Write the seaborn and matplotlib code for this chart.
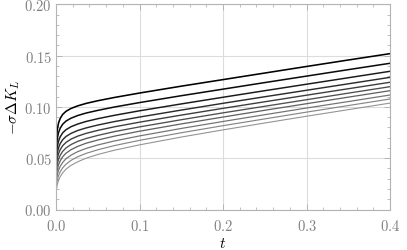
import numpy as np
import pandas as pd
import matplotlib
matplotlib.use("Agg")
import matplotlib.pyplot as plt
import seaborn as sns
from matplotlib.ticker import MultipleLocator, FuncFormatter

t_vals = [0, 0.0005, 0.0015, 0.003, 0.005, 0.008, 0.012, 0.018, 0.026, 0.036,
          0.05, 0.07, 0.1, 0.15, 0.2, 0.25, 0.3, 0.35, 0.4]

c1 = [0.0500, 0.0682, 0.0776, 0.0842, 0.0887, 0.0927, 0.0957, 0.0985, 0.1010, 0.1034,
      0.1060, 0.1092, 0.1135, 0.1202, 0.1266, 0.1330, 0.1394, 0.1457, 0.1519]
c2 = [0.0450, 0.0604, 0.0688, 0.0749, 0.0792, 0.0831, 0.0862, 0.0890, 0.0916, 0.0940,
      0.0966, 0.0999, 0.1042, 0.1109, 0.1173, 0.1237, 0.1300, 0.1363, 0.1425]
c3 = [0.0400, 0.0534, 0.0609, 0.0666, 0.0708, 0.0747, 0.0778, 0.0807, 0.0833, 0.0858,
      0.0885, 0.0918, 0.0962, 0.1029, 0.1094, 0.1158, 0.1221, 0.1284, 0.1347]
c4 = [0.0360, 0.0478, 0.0547, 0.0601, 0.0642, 0.0680, 0.0712, 0.0742, 0.0770, 0.0795,
      0.0823, 0.0857, 0.0901, 0.0969, 0.1035, 0.1099, 0.1162, 0.1225, 0.1288]
c5 = [0.0320, 0.0427, 0.0491, 0.0543, 0.0583, 0.0622, 0.0654, 0.0686, 0.0715, 0.0742,
      0.0771, 0.0806, 0.0851, 0.0920, 0.0986, 0.1050, 0.1114, 0.1177, 0.1240]
c6 = [0.0280, 0.0377, 0.0438, 0.0488, 0.0528, 0.0567, 0.0600, 0.0633, 0.0664, 0.0692,
      0.0722, 0.0759, 0.0805, 0.0875, 0.0942, 0.1006, 0.1070, 0.1134, 0.1197]
c7 = [0.0240, 0.0329, 0.0386, 0.0435, 0.0474, 0.0514, 0.0549, 0.0583, 0.0615, 0.0646,
      0.0677, 0.0715, 0.0763, 0.0834, 0.0901, 0.0967, 0.1031, 0.1095, 0.1158]
c8 = [0.0200, 0.0281, 0.0335, 0.0381, 0.0420, 0.0459, 0.0495, 0.0530, 0.0564, 0.0595,
      0.0629, 0.0668, 0.0717, 0.0790, 0.0858, 0.0924, 0.0989, 0.1052, 0.1116]
c9 = [0.0160, 0.0235, 0.0285, 0.0329, 0.0367, 0.0406, 0.0442, 0.0479, 0.0514, 0.0547,
      0.0582, 0.0623, 0.0674, 0.0748, 0.0817, 0.0883, 0.0949, 0.1013, 0.1077]
c10 = [0.0130, 0.0197, 0.0243, 0.0283, 0.0320, 0.0357, 0.0393, 0.0430, 0.0465, 0.0500,
       0.0536, 0.0578, 0.0630, 0.0706, 0.0776, 0.0843, 0.0909, 0.0973, 0.1037]

curves = [c1, c2, c3, c4, c5, c6, c7, c8, c9, c10]
curve_names = [f"c{i+1}" for i in range(len(curves))]

x_ticks = [0.0, 0.1, 0.2, 0.3, 0.4]
y_ticks = [0.00, 0.05, 0.10, 0.15, 0.20]

rows = []
for name, vals in zip(curve_names, curves):
    for tv, v in zip(t_vals, vals):
        rows.append({"t": tv, "val": v, "curve": name})
df = pd.DataFrame(rows)

sns.set_theme(style="ticks")
plt.rcParams["mathtext.fontset"] = "cm"
plt.rcParams["font.family"] = ["DejaVu Serif"]

n = len(curves)
gray_levels = [0.0, 0.04, 0.1, 0.17, 0.24, 0.31, 0.38, 0.45, 0.52, 0.58]
palette = dict(zip(curve_names, [str(g) for g in gray_levels]))

fig = plt.figure(figsize=(4.07, 2.51), dpi=100)
ax = fig.add_axes([56 / 407, 1 - 210.5 / 251, (390 - 56) / 407, (210.5 - 5.3) / 251])

sns.lineplot(data=df, x="t", y="val", hue="curve", palette=palette,
             legend=False, ax=ax, linewidth=1.0)
for i, line in enumerate(ax.get_lines()):
    line.set_linewidth(1.15 - 0.35 * i / (n - 1))
    line.set_solid_joinstyle("round")

ax.set_xlim(0, 0.4)
ax.set_ylim(0, 0.2)
ax.set_xticks(x_ticks)
ax.set_yticks(y_ticks)
ax.xaxis.set_minor_locator(MultipleLocator(0.02))
ax.yaxis.set_minor_locator(MultipleLocator(0.01))
ax.xaxis.set_major_formatter(FuncFormatter(lambda v, p: f"${v:.1f}$"))
ax.yaxis.set_major_formatter(FuncFormatter(lambda v, p: f"${v:.2f}$"))

ax.grid(True, which="major", color="#dcdcdc", linewidth=0.8)
ax.set_axisbelow(True)
for s in ax.spines.values():
    s.set_color("#b4b4b4")
    s.set_linewidth(0.8)
ax.tick_params(which="both", direction="in", top=True, right=True,
               color="#b4b4b4", labelcolor="#808080", labelsize=10.5)
ax.tick_params(axis="x", which="both", pad=6)
ax.tick_params(axis="y", which="both", pad=3)
ax.tick_params(which="major", length=4, width=0.7)
ax.tick_params(which="minor", length=2, width=0.6)

ax.set_xlabel(r"$t$", fontsize=11, color="black", labelpad=2)
ax.set_ylabel(r"$-\sigma\Delta K_L$", fontsize=11, color="black", labelpad=2)

fig.savefig("out.png", dpi=100)
